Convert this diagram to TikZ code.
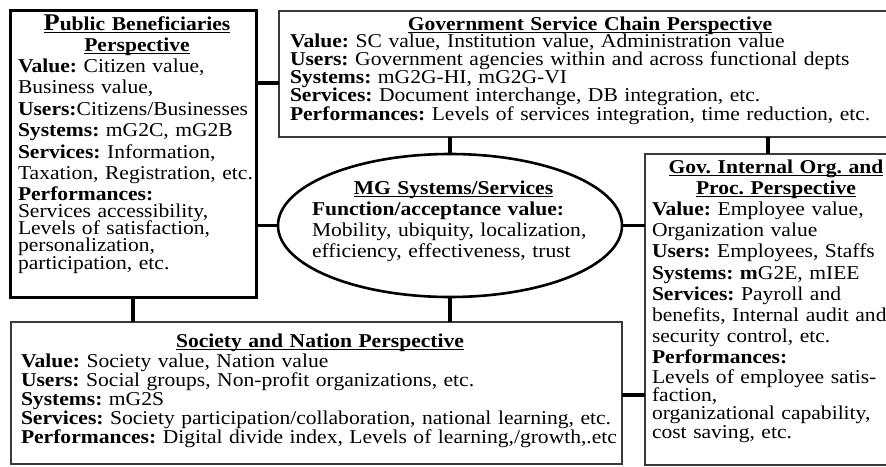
\documentclass[tikz,border=0pt]{standalone}
\usepackage{fontspec}
\setmainfont{Liberation Serif}[FakeStretch=1.1]
\usetikzlibrary{shapes.geometric}
\newcommand\myul[1]{\setbox0\hbox{#1}\rlap{\rule[-3pt]{\wd0}{1.5pt}}\box0}
\newcommand\firstln{\lineskiplimit=-100pt\normallineskiplimit=-100pt\frenchspacing\rule{0pt}{18pt}}
\definecolor{boxgray}{HTML}{3A3A3A}
\tikzset{
  conn/.style={line width=3.5pt, draw=black},
  boxa/.style={draw=black, line width=3pt, rectangle, anchor=north west, inner sep=0pt, outer sep=0pt},
  boxb/.style={draw=boxgray, line width=2.4pt, rectangle, anchor=north west, inner sep=0pt, outer sep=0pt},
  ellbox/.style={draw=black, line width=2.6pt, ellipse, inner sep=0pt, outer sep=0pt},
  txt/.style={anchor=north west, inner sep=0pt, outer sep=0pt, align=left, text width=#1},
  fs/.style={font=\fontsize{19.6pt}{#1}\selectfont}
}
\begin{document}
\begin{tikzpicture}[x=1pt,y=-1pt]
\useasboundingbox (0,0) rectangle (886,466);
% boxes
\node[boxa, minimum width=246pt, minimum height=287pt] (pb) at (10,10) {};
\node[boxb, minimum width=610pt, minimum height=126pt] (gsc) at (279,11) {};
\node[boxb, minimum width=244pt, minimum height=311pt] (gio) at (645,154) {};
\node[boxb, minimum width=611pt, minimum height=142pt] (sn) at (11,322) {};
\node[ellbox, minimum width=344pt, minimum height=143pt] (el) at (450,225.5) {};
% helper coordinates
\coordinate (ya) at (0,83);
\coordinate (yb) at (0,395);
\coordinate (xa) at (768,0);
% connectors
\draw[conn] (pb.east |- ya) -- (gsc.west |- ya);
\draw[conn] (pb.east |- el.west) -- (el.west);
\draw[conn] (el.east) -- (gio.west |- el.east);
\draw[conn] (gsc.south -| el.north) -- (el.north);
\draw[conn] (gsc.south -| xa) -- (gio.north -| xa);
\draw[conn] (pb.south) -- (sn.north -| pb.south);
\draw[conn] (el.south) -- (sn.north -| el.south);
\draw[conn] (sn.east |- yb) -- (gio.west |- yb);
% texts
\node[txt=245pt, fs=17pt] (pbt) at (18,12) {\firstln\makebox[238pt][c]{\myul{\textbf{{\fontsize{24pt}{17pt}\selectfont P}ublic Beneficiaries}}}\\[4pt]
\makebox[238pt][c]{\myul{\textbf{Perspective}}}\\[4.4pt]
\textbf{Value:} Citizen value,\\[4.4pt]
Business value,\\[4.4pt]
\textbf{Users:}Citizens/Businesses\\[4.4pt]
\textbf{Systems:} mG2C, mG2B\\[4.4pt]
\textbf{Services:} Information,\\[4.4pt]
Taxation, Registration, etc.\\[4.4pt]
\textbf{Performances:}\\
Services accessibility,\\
Levels of satisfaction,\\
personalization,\\
participation, etc.};
\node[txt=610pt, fs=17.8pt] (gsct) at (290,12) {\firstln\makebox[600pt][c]{\myul{\textbf{Government Service Chain Perspective}}}\\
\textbf{Value:} SC value, Institution value, Administration value\\
\textbf{Users:} Government agencies within and across functional depts\\
\textbf{Systems:} mG2G-HI, mG2G-VI\\
\textbf{Services:} Document interchange, DB integration, etc.\\
\textbf{Performances:} Levels of services integration, time reduction, etc.};
\node[txt=250pt, fs=18.2pt] (giot) at (652,155) {\firstln\makebox[248pt][c]{\myul{\textbf{Gov. Internal Org. and}}}\\[3pt]
\makebox[248pt][c]{\myul{\textbf{Proc. Perspective}}}\\[3pt]
\textbf{Value:} Employee value,\\[3pt]
Organization value\\[3pt]
\textbf{Users:} Employees, Staffs\\[3pt]
\textbf{Systems: m}G2E, mIEE\\[3pt]
\textbf{Services:} Payroll and\\[3pt]
benefits, Internal audit and\\[3pt]
security control, etc.\\[3pt]
\textbf{Performances:}\\[1.5pt]
Levels of employee satis-\\
faction,\\
organizational capability,\\
cost saving, etc.};
\node[txt=605pt, fs=18.8pt] (snt) at (21,329) {\firstln\makebox[598pt][c]{\myul{\textbf{Society and Nation Perspective}}}\\[2pt]
\textbf{Value:} Society value, Nation value\\
\textbf{Users:} Social groups, Non-profit organizations, etc.\\
\textbf{Systems:} mG2S\\
\textbf{Services:} Society participation/collaboration, national learning, etc.\\
\textbf{Performances:} Digital divide index, Levels of learning,/growth,.etc};
\node[txt=290pt, fs=21pt] (elt) at (312,176) {\firstln\makebox[283pt][c]{\myul{\textbf{MG Systems/Services}}}\\
\textbf{Function/acceptance value:}\\
\makebox[283pt][s]{Mobility, ubiquity, localization,}\\
efficiency, effectiveness, trust};
\end{tikzpicture}
\end{document}
